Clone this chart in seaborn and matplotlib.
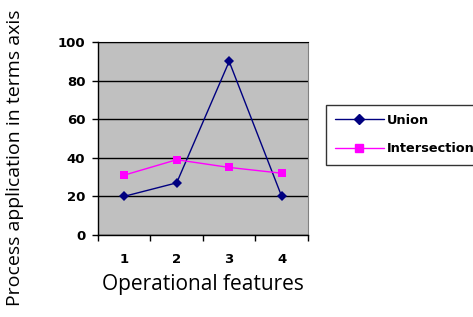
import pandas as pd
import seaborn as sns
import matplotlib.pyplot as plt
from matplotlib.ticker import FixedLocator

sns.set_style("ticks")
plt.rcParams['font.family'] = ['Open Sans', 'DejaVu Sans']
plt.rcParams['text.color'] = 'black'
plt.rcParams['axes.labelcolor'] = 'black'
plt.rcParams['xtick.color'] = 'black'
plt.rcParams['ytick.color'] = 'black'

features = [1, 2, 3, 4]
union = [20, 27, 90, 20]
intersection = [31, 39, 35, 32]

df = pd.DataFrame({
    "feature": features * 2,
    "value": union + intersection,
    "series": ["Union"] * 4 + ["Intersection"] * 4,
})

fig = plt.figure(figsize=(4.73, 3.17), dpi=100)
ax = fig.add_axes([0.207, 0.259, 0.444, 0.608])
ax.set_facecolor("#c0c0c0")

sns.lineplot(data=df, x="feature", y="value", hue="series", style="series",
             palette={"Union": "#000080", "Intersection": "#ff00ff"},
             markers={"Union": "D", "Intersection": "s"}, dashes=False,
             markersize=5.5, linewidth=1, markeredgewidth=0, ax=ax, legend=False)

ax.set_xlim(0.5, 4.5)
ax.set_ylim(0, 100)
ax.set_yticks([0, 20, 40, 60, 80, 100])
ax.set_xticks(features)
ax.xaxis.set_minor_locator(FixedLocator([0.5, 1.5, 2.5, 3.5, 4.5]))
ax.tick_params(axis="x", which="major", length=0, pad=13)
ax.tick_params(axis="x", which="minor", length=4, width=1, direction="out")
ax.tick_params(axis="y", length=4, width=1, direction="out", pad=5)
for lab in ax.get_xticklabels() + ax.get_yticklabels():
    lab.set_fontweight("bold")
    lab.set_fontsize(9.5)
    lab.set_family("DejaVu Sans")
ax.grid(axis="y", color="black", linewidth=1)
ax.set_axisbelow(True)
for s in ["left", "bottom"]:
    ax.spines[s].set_color("black")
    ax.spines[s].set_linewidth(1)
ax.spines["right"].set_color("#808080")
ax.spines["top"].set_color("black")

ax.set_xlabel("Operational features", fontsize=15, labelpad=6)
ax.set_ylabel("Process application in terms axis", fontsize=14)
ax.yaxis.set_label_coords(-0.35, 0.40)

handles = [
    plt.Line2D([], [], color="#000080", marker="D", markersize=5, linewidth=1),
    plt.Line2D([], [], color="#ff00ff", marker="s", markersize=6, linewidth=1),
]
leg = fig.legend(handles, ["Union", "Intersection"], loc="upper left",
                 bbox_to_anchor=(0.689, 0.669), frameon=True, fancybox=False,
                 edgecolor="black", handlelength=3.8, handletextpad=0.2,
                 borderpad=0.7, labelspacing=1.2, borderaxespad=0,
                 prop={"weight": "bold", "size": 9.3, "family": "DejaVu Sans"})
leg.get_frame().set_linewidth(1)

fig.savefig("out.png", dpi=100)
